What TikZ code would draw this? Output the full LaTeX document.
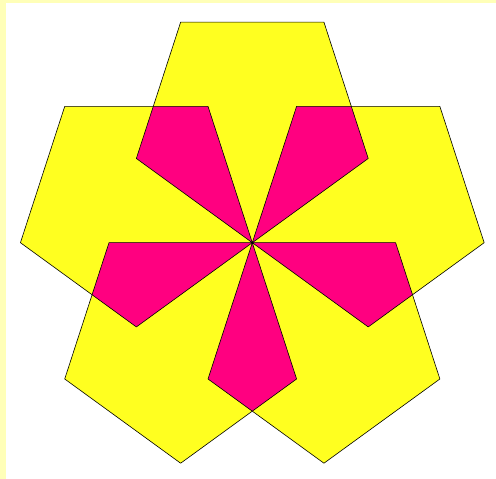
\documentclass[tikz,border=0pt]{standalone}
\usetikzlibrary{calc}

\definecolor{petalyellow}{RGB}{255,255,32}
\definecolor{overlapred}{RGB}{255,0,128}
\definecolor{paleframe}{RGB}{255,255,184}

% circumradius of one pentagon (in px)
\def\rad{121.9}
% pentagon whose centre lies at angle #1, one corner at the origin
\newcommand{\pentapath}[1]{($(#1:\rad)+(#1+180:\rad)$) -- ($(#1:\rad)+(#1+252:\rad)$) -- ($(#1:\rad)+(#1+324:\rad)$) -- ($(#1:\rad)+(#1+36:\rad)$) -- ($(#1:\rad)+(#1+108:\rad)$) -- cycle}

\begin{document}
\begin{tikzpicture}[x=1pt,y=1pt,
		petal/.style={fill=petalyellow},
		overlap/.style={fill=overlapred},
		outline/.style={draw=black, line width=0.6pt, line join=round}]
		
		% Frame and background
		\fill[paleframe] (-252.3,-236.3) rectangle (243.7,242.7);
		\fill[white] (-246.3,-236.3) rectangle (243.7,239.7);
		\useasboundingbox (-252.3,-236.3) rectangle (243.7,242.7);
		
		% Fill the five pentagons
		\foreach \a in {90,162,234,306,18} {
			\fill[petal] \pentapath{\a};
		}
		
		% Overlap of neighbouring pentagons
		\foreach \a in {90,162,234,306,18} {
			\begin{scope}
				\clip \pentapath{\a};
				\fill[overlap] \pentapath{\a+72};
			\end{scope}
		}
		
		% Outlines on top
		\foreach \a in {90,162,234,306,18} {
			\draw[outline] \pentapath{\a};
		}
		
		% Common corner
		\fill[black] (0,0) circle (1.3);
		
	\end{tikzpicture}
\end{document}
